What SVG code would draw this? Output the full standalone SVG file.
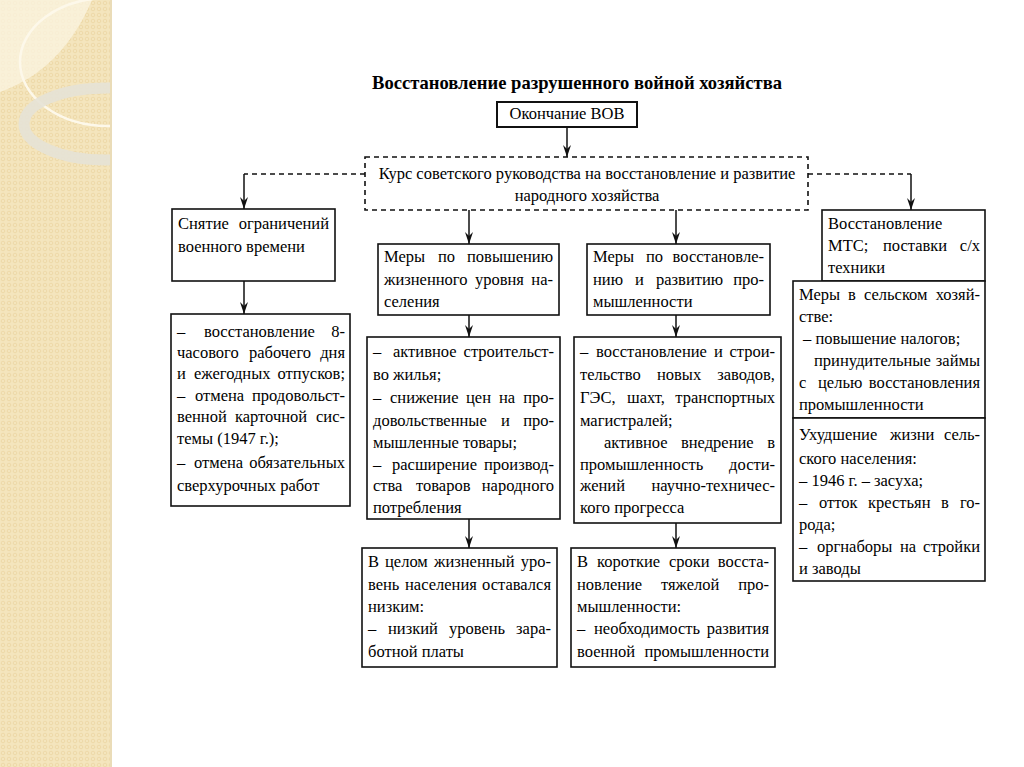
<svg xmlns="http://www.w3.org/2000/svg" width="1024" height="767" viewBox="0 0 1024 767">
<style>
.t{font-family:"Liberation Serif","Times New Roman",serif;font-size:16.5px;fill:#000}
.e{text-anchor:end}
.m{text-anchor:middle}
.b{fill:#fff;stroke:#111;stroke-width:1.6}
.d{fill:#fff;stroke:#111;stroke-width:1.6;stroke-dasharray:5 4}
.c{fill:none;stroke:#111;stroke-width:1.5}
.cd{fill:none;stroke:#111;stroke-width:1.5;stroke-dasharray:5 4}
</style>
<defs>
<pattern id="pt" width="6" height="6" patternUnits="userSpaceOnUse">
<rect width="6" height="6" fill="#f4e5bd"/>
<circle cx="3" cy="3" r="1.8" fill="none" stroke="#e9d39f" stroke-width="0.7"/>
</pattern>
<clipPath id="band"><rect x="0" y="0" width="112" height="767"/></clipPath>
<marker id="ah" viewBox="0 0 12 10" refX="12" refY="5" markerWidth="12" markerHeight="10" orient="auto" markerUnits="userSpaceOnUse">
<path d="M0,1 L12,5 L0,9 L4,5 Z" fill="#111"/>
</marker>
</defs>
<rect width="1024" height="767" fill="#fff"/>
<g id="decor" clip-path="url(#band)">
<rect x="0" y="0" width="112" height="767" fill="url(#pt)"/>
<path d="M0,0 L92,0 Q62,70 0,92 Z" fill="#fbf4e2" opacity="0.75"/>
<ellipse cx="108" cy="62" rx="88" ry="64" fill="none" stroke="#fdf8ea" stroke-width="2.5"/>
<ellipse cx="106" cy="124" rx="82" ry="36" fill="none" stroke="#e6e2d6" stroke-width="11" opacity="0.9"/>
<rect x="110" y="0" width="2" height="767" fill="#eadcb8"/>
</g>
<text class="t" x="577" y="89" style="font-size:19px;font-weight:bold" text-anchor="middle" textLength="410" lengthAdjust="spacingAndGlyphs">Восстановление разрушенного войной хозяйства</text>

<g id="connectors">
<path class="c" d="M567,127 V157" marker-end="url(#ah)"/>
<path class="cd" d="M365,174 H244"/>
<path class="c" d="M244,174 V209" marker-end="url(#ah)"/>
<path class="cd" d="M808,174 H911"/>
<path class="c" d="M911,174 V210" marker-end="url(#ah)"/>
<path class="c" d="M469,210 V244" marker-end="url(#ah)"/>
<path class="c" d="M676,210 V244" marker-end="url(#ah)"/>
<path class="c" d="M244,281 V314" marker-end="url(#ah)"/>
<path class="c" d="M469,315 V337" marker-end="url(#ah)"/>
<path class="c" d="M676,315 V337" marker-end="url(#ah)"/>
<path class="c" d="M469,519 V548" marker-end="url(#ah)"/>
<path class="c" d="M676,523 V548" marker-end="url(#ah)"/>
</g>

<g id="end-war">
<rect class="b" x="497" y="102" width="140" height="25" style="stroke-width:2"/>
<text class="t m" x="567" y="119">Окончание ВОВ</text>
</g>

<g id="course">
<rect class="d" x="365" y="157" width="443" height="53"/>
<text class="t m" x="587" y="179">Курс советского руководства на восстановление и развитие</text>
<text class="t m" x="587" y="201">народного хозяйства</text>
</g>

<g id="lift-restrictions">
<rect class="b" x="172" y="209" width="163" height="72"/>
<text class="t" y="229"><tspan x="178">Снятие</tspan><tspan x="329" class="e">ограничений</tspan></text>
<text class="t" x="178" y="252">военного времени</text>
</g>

<g id="lift-list">
<rect class="b" x="171" y="314" width="179" height="192"/>
<text class="t" y="337"><tspan x="177">–</tspan><tspan x="204">восстановление</tspan><tspan x="345" class="e">8-</tspan></text>
<text class="t" y="358"><tspan x="177">часового</tspan><tspan x="249">рабочего</tspan><tspan x="345" class="e">дня</tspan></text>
<text class="t" y="379"><tspan x="177">и</tspan><tspan x="194">ежегодных</tspan><tspan x="345" class="e">отпусков;</tspan></text>
<text class="t" y="401"><tspan x="177">–</tspan><tspan x="195">отмена</tspan><tspan x="345" class="e">продовольст-</tspan></text>
<text class="t" y="422"><tspan x="177">венной</tspan><tspan x="235">карточной</tspan><tspan x="345" class="e">сис-</tspan></text>
<text class="t" x="177" y="444">темы (1947 г.);</text>
<text class="t" y="468"><tspan x="177">–</tspan><tspan x="194">отмена</tspan><tspan x="345" class="e">обязательных</tspan></text>
<text class="t" x="177" y="491">сверхурочных работ</text>
</g>

<g id="living-measures">
<rect class="b" x="378" y="244" width="181" height="71"/>
<text class="t" y="262"><tspan x="384">Меры</tspan><tspan x="438">по</tspan><tspan x="553" class="e">повышению</tspan></text>
<text class="t" y="285"><tspan x="384">жизненного</tspan><tspan x="475">уровня</tspan><tspan x="553" class="e">на-</tspan></text>
<text class="t" x="384" y="307">селения</text>
</g>

<g id="industry-measures">
<rect class="b" x="587" y="244" width="183" height="71"/>
<text class="t" y="262"><tspan x="593">Меры</tspan><tspan x="646">по</tspan><tspan x="764" class="e">восстановле-</tspan></text>
<text class="t" y="285"><tspan x="593">нию</tspan><tspan x="635">и</tspan><tspan x="656">развитию</tspan><tspan x="764" class="e">про-</tspan></text>
<text class="t" x="593" y="307">мышленности</text>
</g>

<g id="living-list">
<rect class="b" x="367" y="337" width="193" height="182"/>
<text class="t" y="357"><tspan x="373">–</tspan><tspan x="393">активное</tspan><tspan x="554" class="e">строительст-</tspan></text>
<text class="t" x="373" y="380">во жилья;</text>
<text class="t" y="403"><tspan x="373">–</tspan><tspan x="390">снижение</tspan><tspan x="466">цен</tspan><tspan x="499">на</tspan><tspan x="554" class="e">про-</tspan></text>
<text class="t" y="426"><tspan x="373">довольственные</tspan><tspan x="501">и</tspan><tspan x="554" class="e">про-</tspan></text>
<text class="t" x="373" y="448">мышленные товары;</text>
<text class="t" y="470"><tspan x="373">–</tspan><tspan x="392">расширение</tspan><tspan x="554" class="e">производ-</tspan></text>
<text class="t" y="491"><tspan x="373">ства</tspan><tspan x="416">товаров</tspan><tspan x="554" class="e">народного</tspan></text>
<text class="t" x="373" y="513">потребления</text>
</g>

<g id="industry-list">
<rect class="b" x="574" y="337" width="207" height="186"/>
<text class="t" y="357"><tspan x="580">–</tspan><tspan x="596">восстановление</tspan><tspan x="714">и</tspan><tspan x="775" class="e">строи-</tspan></text>
<text class="t" y="380"><tspan x="580">тельство</tspan><tspan x="657">новых</tspan><tspan x="775" class="e">заводов,</tspan></text>
<text class="t" y="403"><tspan x="580">ГЭС,</tspan><tspan x="627">шахт,</tspan><tspan x="775" class="e">транспортных</tspan></text>
<text class="t" x="580" y="426">магистралей;</text>
<text class="t" y="448"><tspan x="604">активное</tspan><tspan x="681">внедрение</tspan><tspan x="775" class="e">в</tspan></text>
<text class="t" y="470"><tspan x="580">промышленность</tspan><tspan x="775" class="e">дости-</tspan></text>
<text class="t" y="491"><tspan x="580">жений</tspan><tspan x="775" class="e">научно-техничес-</tspan></text>
<text class="t" x="580" y="513">кого прогресса</text>
</g>

<g id="living-result">
<rect class="b" x="362" y="548" width="195" height="119"/>
<text class="t" y="567"><tspan x="368">В</tspan><tspan x="385">целом</tspan><tspan x="434">жизненный</tspan><tspan x="551" class="e">уро-</tspan></text>
<text class="t" y="590"><tspan x="368">вень</tspan><tspan x="405">населения</tspan><tspan x="551" class="e">оставался</tspan></text>
<text class="t" x="368" y="612">низким:</text>
<text class="t" y="634"><tspan x="368">–</tspan><tspan x="388">низкий</tspan><tspan x="449">уровень</tspan><tspan x="551" class="e">зара-</tspan></text>
<text class="t" x="368" y="657">ботной платы</text>
</g>

<g id="industry-result">
<rect class="b" x="571" y="548" width="204" height="119"/>
<text class="t" y="567"><tspan x="577">В</tspan><tspan x="597">короткие</tspan><tspan x="669">сроки</tspan><tspan x="769" class="e">восста-</tspan></text>
<text class="t" y="590"><tspan x="577">новление</tspan><tspan x="661">тяжелой</tspan><tspan x="769" class="e">про-</tspan></text>
<text class="t" x="577" y="612">мышленности:</text>
<text class="t" y="634"><tspan x="577">–</tspan><tspan x="594">необходимость</tspan><tspan x="769" class="e">развития</tspan></text>
<text class="t" y="657"><tspan x="577">военной</tspan><tspan x="769" class="e">промышленности</tspan></text>
</g>

<g id="mts">
<rect class="b" x="822" y="210" width="163" height="71"/>
<text class="t" x="828" y="229">Восстановление</text>
<text class="t" y="251"><tspan x="828">МТС;</tspan><tspan x="883">поставки</tspan><tspan x="980" class="e">с/х</tspan></text>
<text class="t" x="828" y="273">техники</text>
</g>

<g id="agri-measures">
<rect class="b" x="793" y="281" width="192" height="137"/>
<text class="t" y="300"><tspan x="799">Меры</tspan><tspan x="848">в</tspan><tspan x="864">сельском</tspan><tspan x="980" class="e">хозяй-</tspan></text>
<text class="t" x="799" y="322">стве:</text>
<text class="t" x="803" y="344">– повышение налогов;</text>
<text class="t" y="366"><tspan x="814">принудительные</tspan><tspan x="980" class="e">займы</tspan></text>
<text class="t" y="388"><tspan x="799">с</tspan><tspan x="818">целью</tspan><tspan x="980" class="e">восстановления</tspan></text>
<text class="t" x="799" y="410">промышленности</text>
</g>

<g id="rural-life">
<rect class="b" x="793" y="418" width="192" height="163"/>
<text class="t" y="440"><tspan x="799">Ухудшение</tspan><tspan x="890">жизни</tspan><tspan x="980" class="e">сель-</tspan></text>
<text class="t" x="799" y="464">ского населения:</text>
<text class="t" x="799" y="486">– 1946 г. – засуха;</text>
<text class="t" y="508"><tspan x="799">–</tspan><tspan x="819">отток</tspan><tspan x="868">крестьян</tspan><tspan x="941">в</tspan><tspan x="980" class="e">го-</tspan></text>
<text class="t" x="799" y="530">рода;</text>
<text class="t" y="552"><tspan x="799">–</tspan><tspan x="817">оргнаборы</tspan><tspan x="900">на</tspan><tspan x="980" class="e">стройки</tspan></text>
<text class="t" x="799" y="574">и заводы</text>
</g>
</svg>
